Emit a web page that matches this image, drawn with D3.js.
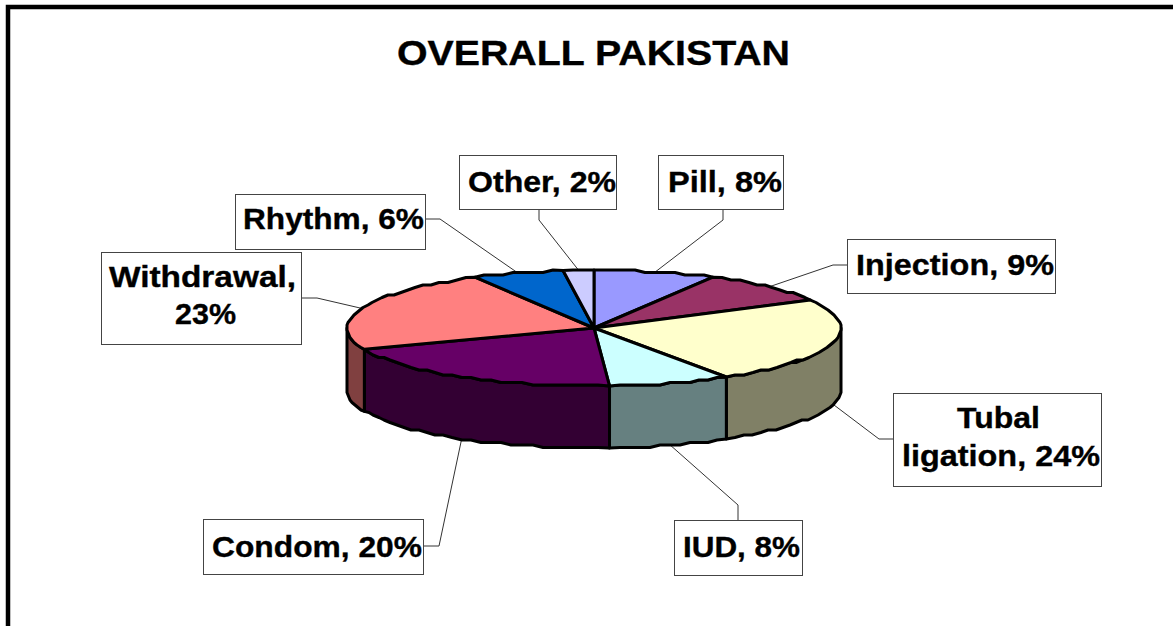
<!DOCTYPE html>
<html><head><meta charset="utf-8">
<script src="https://cdn.jsdelivr.net/npm/d3@7"></script>
<style>html,body{margin:0;padding:0;background:#fff}svg{display:block}text{font-family:"Liberation Sans",Arial,sans-serif;font-weight:bold;fill:#000;stroke:#000;stroke-width:.35px}</style>
</head><body>
<svg id="c" width="1173" height="626"></svg>
<script>
const categories = ["Pill","Injection","Tubal ligation","IUD","Condom","Withdrawal","Rhythm","Other"];
const values = [8,9,24,8,20,23,6,2];
const topColors = ["#9999FF","#993366","#FFFFCC","#CCFFFF","#660066","#FF8080","#0066CC","#CCCCFF"];
const sideColors = ["#4D4D80","#4D1A33","#808066","#668080","#330033","#804040","#003366","#666680"];
const labelLines = [["Pill, 8%"],["Injection, 9%"],["Tubal","ligation, 24%"],["IUD, 8%"],["Condom, 20%"],["Withdrawal,","23%"],["Rhythm, 6%"],["Other, 2%"]];
const title = "OVERALL PAKISTAN";

// layout of label boxes, leader starts and elbows, text baselines and extents
const boxes = [[658,155,783,209],[847,239,1055,293],[893,393,1101,486],[674,520,802,575],[203,519,423,574],[101,252,301,344],[235,194,425,249],[459,155,616,209]];
const starts = [[723,209],[847,265],[893,439],[738,520],[423,546],[301,298],[425,219],[539,209]];
const elbows = [[723,220],[833,265],[879,439],[738,505],[439,546],[317,298],[440,219],[539,220]];
const baselines = [[192],[275],[428,466],[557],[557],[287,324],[229],[192]];
const extents = [[[668,782]],[[856,1054]],[[957,1040],[902,1100]],[[683,800]],[[212,422]],[[109,296],[175,236]],[[243,424]],[[468,616]]];

const cx=594, cy=328, rx=247, ry=58, depth=62;
const svg=d3.select("#c");

svg.append("path").attr("d","M8,626V7H1173").attr("fill","none").attr("stroke","#000").attr("stroke-width",4.5);

svg.append("text").attr("x",397).attr("y",65).attr("font-size",35)
  .attr("textLength",393).attr("lengthAdjust","spacingAndGlyphs").text(title);

const arcs=d3.pie().sort(null)(values);
const proj=(a,dz=0)=>[cx+rx*Math.sin(a),cy-ry*Math.cos(a)+dz];
// the reference outline is coarse: sample the rim and snap it to a rough grid
const snap=p=>[Math.round(p[0]),Math.round(p[1]/2.5)*2.5];
const arcPts=(a0,a1,dz=0)=>{
  const n=Math.max(1,Math.ceil(Math.abs(a1-a0)/0.045));
  return d3.range(n+1).map(i=>{
    const p=proj(a0+(a1-a0)*i/n,dz);
    return (i===0||i===n)?p:snap(p);
  });
};
const line=d3.line().curve(d3.curveLinear);

const g=svg.append("g");
arcs.forEach((d,i)=>{
  const mid=(d.startAngle+d.endAngle)/2;
  const end=proj(mid,Math.cos(mid)<0?depth:0);
  g.append("path").attr("d",line([starts[i],elbows[i],end])).attr("fill","none").attr("stroke","#333").attr("stroke-width",1);
});

const sw=3, P=Math.PI;
arcs.forEach((d,i)=>{
  const a0=Math.max(d.startAngle,P/2), a1=Math.min(d.endAngle,3*P/2);
  if(a1<=a0) return;
  const pts=arcPts(a0,a1).concat(arcPts(a1,a0,depth));
  g.append("path").attr("d",line(pts)+"Z").attr("fill",sideColors[i]).attr("stroke","#000").attr("stroke-width",sw).attr("stroke-linejoin","round");
});
arcs.forEach((d,i)=>{
  const pts=[[cx,cy]].concat(arcPts(d.startAngle,d.endAngle));
  g.append("path").attr("d",line(pts)+"Z").attr("fill",topColors[i]).attr("stroke","#000").attr("stroke-width",sw).attr("stroke-linejoin","round");
});

boxes.forEach((b,i)=>{
  svg.append("rect").attr("x",b[0]+.5).attr("y",b[1]+.5).attr("width",b[2]-b[0]).attr("height",b[3]-b[1]).attr("fill","#fff").attr("stroke","#444").attr("stroke-width",1);
  labelLines[i].forEach((t,j)=>{
    const e=extents[i][j];
    svg.append("text").attr("x",e[0]).attr("y",baselines[i][j]).attr("font-size",29.5)
      .attr("textLength",e[1]-e[0]).attr("lengthAdjust","spacingAndGlyphs").text(t);
  });
});
</script>
</body></html>
